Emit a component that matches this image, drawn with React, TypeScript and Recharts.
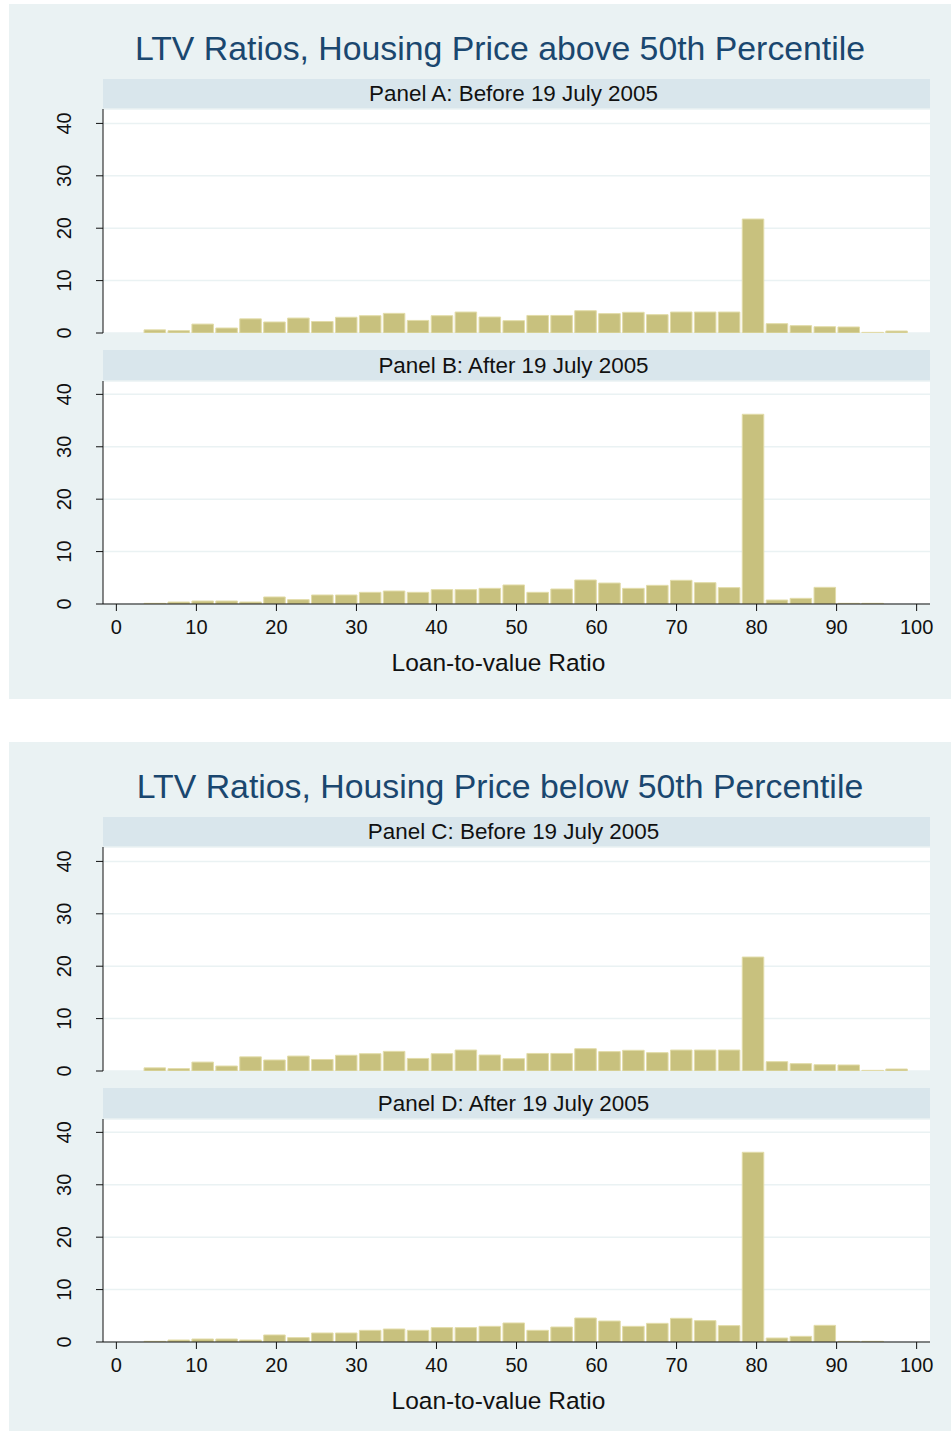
import { Bar, BarChart, CartesianGrid, XAxis, YAxis } from 'recharts'

// bin centres of the LTV histogram (32 bins, ~2.99 wide)
const ltvBins = [
  4.83, 7.82, 10.81, 13.8, 16.79, 19.78, 22.77, 25.76, 28.75, 31.74, 34.73, 37.72, 40.71, 43.7, 46.69, 49.68,
  52.67, 55.66, 58.65, 61.64, 64.63, 67.62, 70.61, 73.6, 76.59, 79.58, 82.57, 85.56, 88.55, 91.54, 94.53, 97.52,
]
const binWidth = 2.99

// percent of loans per bin
const panelAValues = [
  0.6, 0.45, 1.7, 0.95, 2.7, 2.1, 2.85, 2.2, 3.0, 3.3, 3.75, 2.4, 3.3, 4.0, 3.05, 2.35,
  3.35, 3.35, 4.25, 3.7, 3.95, 3.5, 4.0, 4.0, 4.0, 21.75, 1.78, 1.4, 1.2, 1.15, 0.12, 0.38,
]
const panelBValues = [
  0.13, 0.38, 0.57, 0.57, 0.38, 1.34, 0.83, 1.72, 1.72, 2.23, 2.48, 2.23, 2.74, 2.74, 2.99, 3.63,
  2.23, 2.86, 4.58, 4.0, 2.99, 3.56, 4.52, 4.07, 3.12, 36.2, 0.76, 1.08, 3.18, 0.13, 0.13, 0,
]
const panelCValues = [
  0.6, 0.45, 1.7, 0.95, 2.7, 2.1, 2.85, 2.2, 3.0, 3.3, 3.75, 2.4, 3.3, 4.0, 3.05, 2.35,
  3.35, 3.35, 4.25, 3.7, 3.95, 3.5, 4.0, 4.0, 4.0, 21.75, 1.78, 1.4, 1.2, 1.15, 0.12, 0.38,
]
const panelDValues = [
  0.13, 0.38, 0.57, 0.57, 0.38, 1.34, 0.83, 1.72, 1.72, 2.23, 2.48, 2.23, 2.74, 2.74, 2.99, 3.63,
  2.23, 2.86, 4.58, 4.0, 2.99, 3.56, 4.52, 4.07, 3.12, 36.2, 0.76, 1.08, 3.18, 0.13, 0.13, 0,
]

const xTicks = [0, 10, 20, 30, 40, 50, 60, 70, 80, 90, 100]
const yTicks = [0, 10, 20, 30, 40]

const blockTitles = [
  'LTV Ratios, Housing Price above 50th Percentile',
  'LTV Ratios, Housing Price below 50th Percentile',
]
const panelLabels = [
  'Panel A: Before 19 July 2005',
  'Panel B: After 19 July 2005',
  'Panel C: Before 19 July 2005',
  'Panel D: After 19 July 2005',
]
const xAxisTitle = 'Loan-to-value Ratio'

const FONT = "'Liberation Sans', Arial, sans-serif"
const PLOT_LEFT = 103
const PLOT_RIGHT = 930
const X_DOMAIN: [number, number] = [-1.67, 101.67]
const BLOCK_BG = '#EAF2F3'
const STRIP_BG = '#D9E6EC'
const BAR_FILL = '#C8C17E'
const BAR_EDGE = '#E2DCA9'

function RotatedTick(props: any) {
  const { x, y, payload } = props
  return (
    <text
      x={x}
      y={y}
      transform={`rotate(-90 ${x} ${y})`}
      textAnchor="middle"
      fill="#111"
      fontSize={20}
      fontFamily={FONT}
    >
      {payload.value}
    </text>
  )
}

type PanelProps = {
  values: number[]
  plotTop: number
  plotHeight: number
  yMax: number
  showX: boolean
}

function HistPanel({ values, plotTop, plotHeight, yMax, showX }: PanelProps) {
  const data = ltvBins.map((ltv, i) => ({ ltv, pct: values[i] }))
  const padTop = 14
  const padBottom = showX ? 0 : 14
  const axisHeight = showX ? 82 : 0
  const height = padTop + plotHeight + axisHeight + padBottom
  const barSize = ((PLOT_RIGHT - PLOT_LEFT) * binWidth) / (X_DOMAIN[1] - X_DOMAIN[0])

  return (
    <div style={{ position: 'absolute', left: 0, top: plotTop - padTop }}>
      <BarChart
        width={951}
        height={height}
        data={data}
        barSize={barSize}
        margin={{ top: padTop, right: 951 - PLOT_RIGHT, bottom: padBottom, left: 0 }}
      >
        <CartesianGrid vertical={false} fill="#fff" stroke={BLOCK_BG} strokeWidth={1.5} />
        <XAxis
          dataKey="ltv"
          type="number"
          domain={X_DOMAIN}
          ticks={xTicks}
          allowDataOverflow
          hide={!showX}
          height={axisHeight}
          tickSize={7}
          tickMargin={9}
          axisLine={{ stroke: '#111' }}
          tickLine={{ stroke: '#111' }}
          tick={{ fill: '#111', fontSize: 20, fontFamily: FONT }}
          label={{
            value: xAxisTitle,
            position: 'insideBottom',
            offset: 15,
            dx: -18,
            fill: '#111',
            fontSize: 24.5,
            fontFamily: FONT,
          }}
        />
        <YAxis
          type="number"
          domain={[0, yMax]}
          ticks={yTicks}
          allowDataOverflow
          width={PLOT_LEFT}
          tickSize={7}
          tickMargin={25}
          axisLine={{ stroke: '#111' }}
          tickLine={{ stroke: '#111' }}
          tick={<RotatedTick />}
        />
        <Bar dataKey="pct" fill={BAR_FILL} stroke={BAR_EDGE} strokeWidth={1} isAnimationActive={false} />
      </BarChart>
    </div>
  )
}

function Strip({ top, height, text }: { top: number; height: number; text: string }) {
  return (
    <div
      style={{
        position: 'absolute',
        left: PLOT_LEFT,
        top,
        width: PLOT_RIGHT - PLOT_LEFT,
        height,
        lineHeight: `${height}px`,
        background: STRIP_BG,
        textAlign: 'center',
        fontSize: 22.4,
        fontFamily: FONT,
        color: '#111',
      }}
    >
      <span style={{ position: 'relative', left: -3 }}>{text}</span>
    </div>
  )
}

function Block({ offset, bottom, title, top, lower }: any) {
  return (
    <>
      <div
        style={{
          position: 'absolute',
          left: 9,
          top: offset + 4,
          width: 951 - 9,
          height: bottom - (offset + 4),
          background: BLOCK_BG,
        }}
      />
      <div
        style={{
          position: 'absolute',
          left: 0,
          top: offset + 28,
          width: 1000,
          height: 40,
          lineHeight: '40px',
          textAlign: 'center',
          fontSize: 33.8,
          fontFamily: FONT,
          color: '#1A476F',
        }}
      >
        {title}
      </div>
      <Strip top={offset + 79} height={30} text={top.label} />
      <HistPanel values={top.values} plotTop={offset + 109} plotHeight={224} yMax={42.75} showX={false} />
      <Strip top={offset + 350} height={31} text={lower.label} />
      <HistPanel values={lower.values} plotTop={offset + 381} plotHeight={223} yMax={42.55} showX />
    </>
  )
}

export default function App() {
  return (
    <div
      style={{
        position: 'absolute',
        left: 0,
        top: 0,
        width: 951,
        height: 1431,
        overflow: 'hidden',
        background: '#fff',
      }}
    >
      <Block
        offset={0}
        bottom={699}
        title={blockTitles[0]}
        top={{ label: panelLabels[0], values: panelAValues }}
        lower={{ label: panelLabels[1], values: panelBValues }}
      />
      <Block
        offset={738}
        bottom={1431}
        title={blockTitles[1]}
        top={{ label: panelLabels[2], values: panelCValues }}
        lower={{ label: panelLabels[3], values: panelDValues }}
      />
    </div>
  )
}
